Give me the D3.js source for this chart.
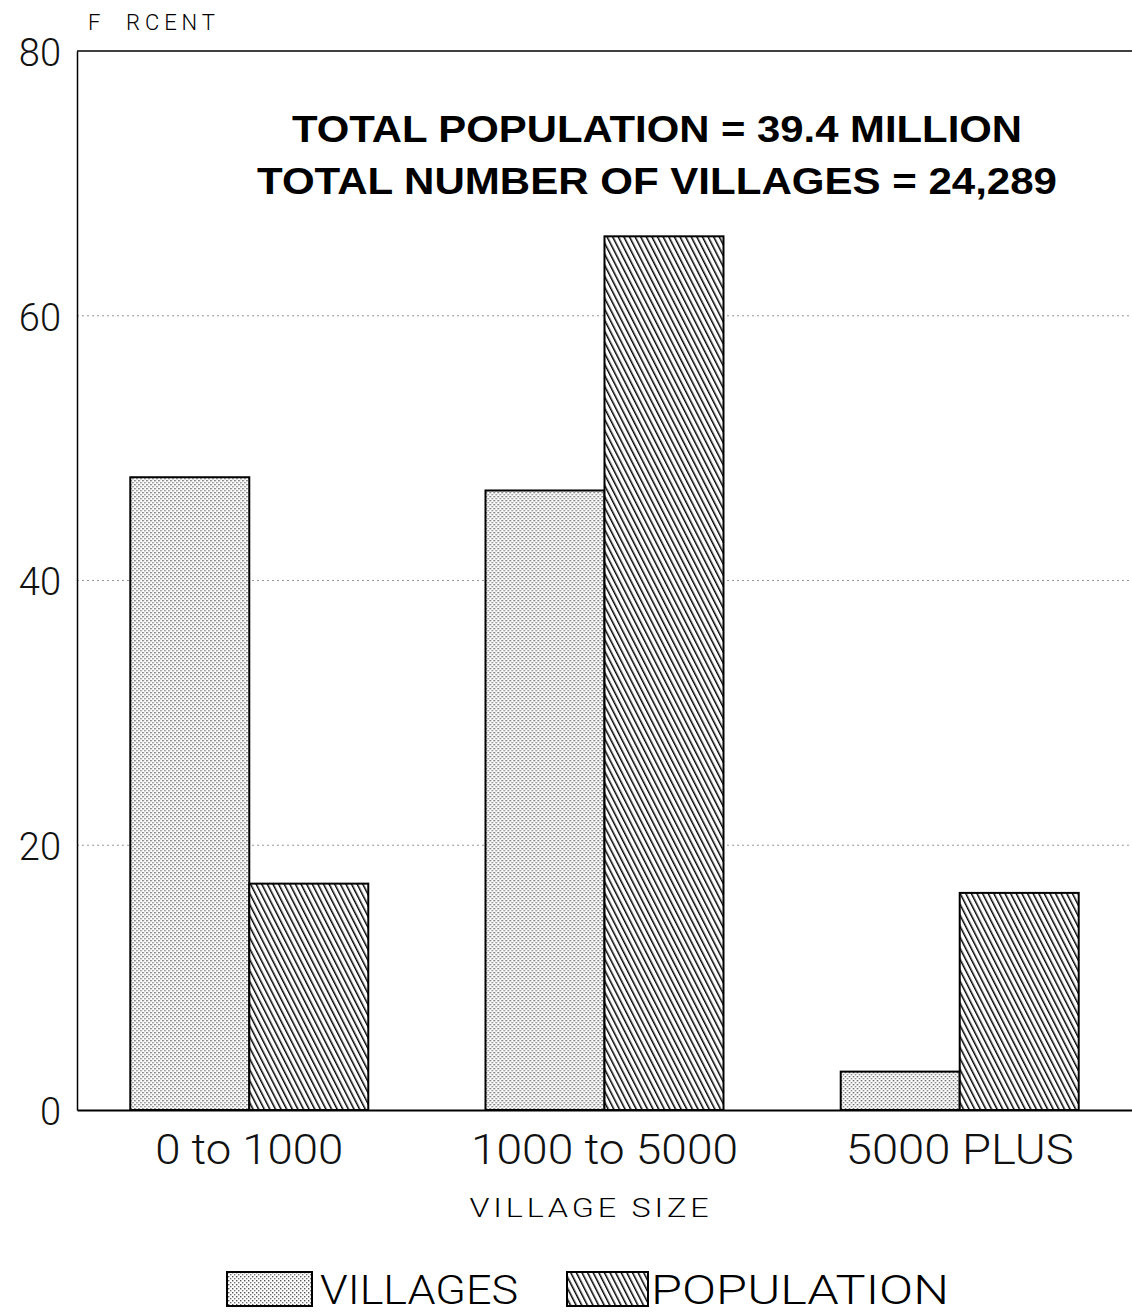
<!DOCTYPE html>
<html><head><meta charset="utf-8">
<script src="https://cdn.jsdelivr.net/npm/d3@7"></script>
<style>body{margin:0;background:#fff}svg text{font-family:"Liberation Sans",Arial,sans-serif}
.thin{font-family:Roboto,"Liberation Sans",sans-serif !important;font-weight:300}</style>
</head><body><svg id="c" width="1132" height="1314"></svg>
<script>
const categories = ["0 to 1000", "1000 to 5000", "5000 PLUS"];
const seriesNames = ["VILLAGES", "POPULATION"];
const villages = [47.8, 46.8, 2.9];
const population = [17.1, 66.0, 16.4];
const yTicks = [0, 20, 40, 60, 80];
const titleLines = ["TOTAL POPULATION = 39.4 MILLION", "TOTAL NUMBER OF VILLAGES = 24,289"];

(function(){
const svg = d3.select("#c");
const defs = svg.append("defs");
const dots = defs.append("pattern").attr("id","dots").attr("patternUnits","userSpaceOnUse").attr("width",4).attr("height",4);
dots.append("rect").attr("width",4).attr("height",4).attr("fill","#fff");
dots.append("rect").attr("x",0).attr("y",0).attr("width",1.4).attr("height",1.4).attr("fill","#555");
dots.append("rect").attr("x",2).attr("y",2).attr("width",1.4).attr("height",1.4).attr("fill","#777");
const hatch = defs.append("pattern").attr("id","hatch").attr("patternUnits","userSpaceOnUse").attr("width",5).attr("height",5).attr("patternTransform","rotate(-27)");
hatch.append("rect").attr("width",5).attr("height",5).attr("fill","#fff");
hatch.append("line").attr("x1",0).attr("y1",0).attr("x2",0).attr("y2",5).attr("stroke","#000").attr("stroke-width",3);

const mLeft = 77, mRight = 1132, mTop = 51, mBottom = 1110;
const y = d3.scaleLinear().domain([0,80]).range([mBottom, mTop]);
const x0 = d3.scaleBand().domain(categories).range([mLeft, mRight]).paddingInner(0.33).paddingOuter(0.15);
const x1 = d3.scaleBand().domain(seriesNames).range([0, x0.bandwidth()]);

svg.append("g").selectAll("line").data(yTicks.filter(d=>d>0 && d<80)).join("line")
  .attr("x1", mLeft).attr("x2", mRight).attr("y1", d=>y(d)).attr("y2", d=>y(d))
  .attr("stroke","#999").attr("stroke-width",1).attr("stroke-dasharray","2,3");

const yAxis = svg.append("g").attr("transform",`translate(${mLeft},0)`)
  .call(d3.axisLeft(y).tickValues(yTicks).tickSize(0).tickPadding(16).tickFormat(d3.format("d")));
yAxis.select(".domain").attr("stroke","#000").attr("stroke-width",1.5);
yAxis.selectAll("text").attr("class","thin").attr("font-size",38).attr("fill","#111").attr("dy","0.38em");

svg.append("line").attr("x1",mLeft).attr("x2",mRight).attr("y1",mTop).attr("y2",mTop).attr("stroke","#000").attr("stroke-width",1.5);

const data = categories.map((c,i)=>({c, vals:[{k:"VILLAGES",v:villages[i]},{k:"POPULATION",v:population[i]}]}));
const g = svg.append("g");
g.selectAll("g").data(data).join("g").attr("transform",d=>`translate(${x0(d.c)},0)`)
  .selectAll("rect").data(d=>d.vals).join("rect")
  .attr("x",d=>x1(d.k)).attr("width",x1.bandwidth()).attr("y",d=>y(d.v)).attr("height",d=>mBottom-y(d.v))
  .attr("fill",d=>d.k==="VILLAGES"?"url(#dots)":"url(#hatch)").attr("stroke","#000").attr("stroke-width",2);

const catWidths = [188, 267, 228];
const xAxis = svg.append("g").attr("transform",`translate(0,${mBottom})`)
  .call(d3.axisBottom(x0).tickSize(0).tickPadding(24));
xAxis.select(".domain").attr("stroke","#000").attr("stroke-width",2);
xAxis.selectAll("text").attr("class","thin").attr("font-size",42).attr("fill","#111")
  .attr("textLength",(d,i)=>catWidths[i]).attr("lengthAdjust","spacingAndGlyphs");

svg.append("text").attr("class","thin").attr("x", 591).attr("y",1217).attr("text-anchor","middle")
  .attr("font-size",25).attr("textLength",243).attr("lengthAdjust","spacingAndGlyphs").attr("letter-spacing","3px").text("VILLAGE SIZE");

svg.append("text").attr("class","thin").attr("x",88).attr("y",30).attr("font-size",22).attr("xml:space","preserve")
  .attr("textLength",127).attr("lengthAdjust","spacing").text("F  RCENT");

const titleW = [730, 800];
svg.selectAll(".title").data(titleLines).join("text").attr("class","title")
  .attr("x",657).attr("y",(d,i)=>142+i*52).attr("text-anchor","middle")
  .attr("font-size",36).attr("font-weight","bold")
  .attr("textLength",(d,i)=>titleW[i]).attr("lengthAdjust","spacingAndGlyphs").text(d=>d);

const legend = svg.append("g");
const lx = [227, 567];
const lw = [198, 298];
seriesNames.forEach((s,i)=>{
  legend.append("rect").attr("x",lx[i]).attr("y",1272).attr("width",i===0?85:81).attr("height",34)
    .attr("fill",i===0?"url(#dots)":"url(#hatch)").attr("stroke","#000").attr("stroke-width",2);
  legend.append("text").attr("class","thin").attr("x",lx[i]+(i===0?93:84)).attr("y",1304).attr("font-size",40)
    .attr("textLength",lw[i]).attr("lengthAdjust","spacingAndGlyphs").text(s);
});
})();
</script></body></html>
